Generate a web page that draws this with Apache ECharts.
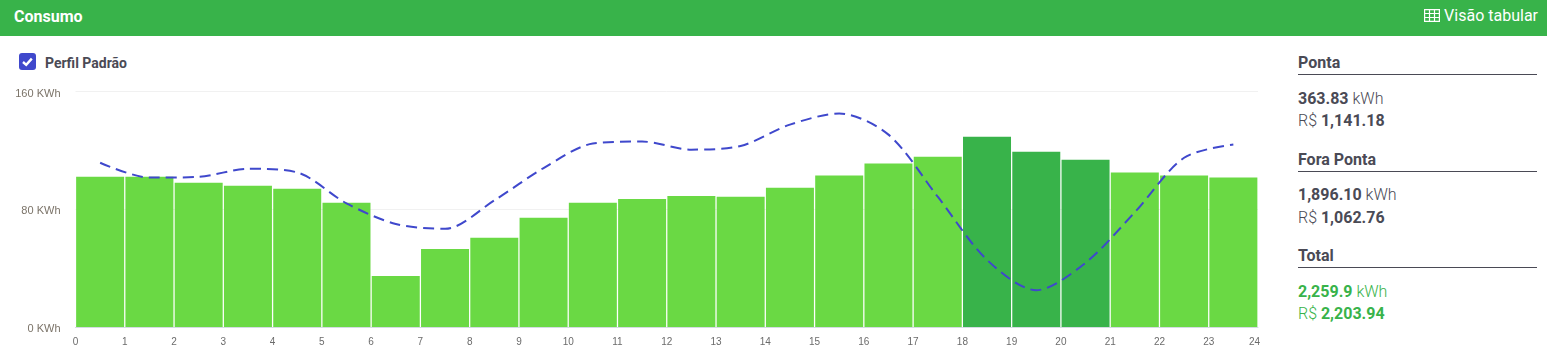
<!DOCTYPE html>
<html>
<head>
<meta charset="utf-8">
<title>Consumo</title>
<script src="https://cdn.jsdelivr.net/npm/echarts@6/dist/echarts.min.js"></script>
<style>
    html, body { margin: 0; padding: 0; background: #fff; }
    body { width: 1547px; height: 351px; position: relative; overflow: hidden; font-family: Roboto, sans-serif; color: #4a4a55; }
    .header { position: absolute; left: 0; top: 0; width: 1547px; height: 36px; background: #38b34a; color: #fff; }
    .header .title { position: absolute; left: 14px; top: 8px; font-size: 16px; font-weight: 700; line-height: 18px; }
    .header .link { position: absolute; right: 9px; top: 6px; font-size: 16px; line-height: 19px; }
    .header svg { vertical-align: -1px; margin-right: 4px; }
    .profile { position: absolute; left: 19px; top: 53px; height: 18px; font-size: 14px; font-weight: 700; line-height: 18px; }
    .profile .box { position: absolute; left: 0; top: 0; width: 17px; height: 17px; background: #3f48cc; border-radius: 3px; }
    .profile .label { position: absolute; left: 26px; top: 1px; white-space: nowrap; }
    #chart { position: absolute; left: 0; top: 80px; width: 1275px; height: 271px; }
    .side { position: absolute; left: 1298px; top: 0; width: 239px; }
    .side h4 { position: absolute; left: 0; width: 239px; margin: 0; font-size: 16px; font-weight: 700; line-height: 19px; height: 21px; border-bottom: 1px solid #4a4a55; }
    .side p { position: absolute; left: 0; margin: 0; font-size: 16px; line-height: 20px; font-weight: 300; white-space: nowrap; }
    .side b { font-weight: 700; }
    .side .green { color: #38b34a; }
</style>
</head>
<body>
<div class="header">
    <div class="title">Consumo</div>
    <div class="link"><svg width="16" height="13" viewBox="0 0 16 13"><path fill="none" stroke="#fff" stroke-width="1.2" d="M.6.6h14.8v11.8H.6zM.6 4.5h14.8M.6 8.5h14.8M5.5.6v11.8M10.5.6v11.8"/></svg>Visão tabular</div>
</div>
<div class="profile">
    <div class="box"><svg width="17" height="17" viewBox="0 0 17 17"><path fill="none" stroke="#fff" stroke-width="2.4" d="M4 9l3.2 2.8 5.6-6.2"/></svg></div>
    <div class="label">Perfil Padrão</div>
</div>
<div id="chart"></div>
<div class="side">
    <h4 style="top:53px">Ponta</h4>
    <p style="top:89px"><b>363.83</b> kWh</p>
    <p style="top:111px">R$ <b>1,141.18</b></p>
    <h4 style="top:150px">Fora Ponta</h4>
    <p style="top:185px"><b>1,896.10</b> kWh</p>
    <p style="top:208px">R$ <b>1,062.76</b></p>
    <h4 style="top:246px">Total</h4>
    <p class="green" style="top:282px"><b>2,259.9</b> kWh</p>
    <p class="green" style="top:304px">R$ <b>2,203.94</b></p>
</div>
<script>
const hours = ['0', '1', '2', '3', '4', '5', '6', '7', '8', '9', '10', '11', '12', '13', '14', '15', '16', '17', '18', '19', '20', '21', '22', '23'];
const consumo = [102, 102, 98, 96, 94, 84.4, 34.7, 53, 60.6, 74.2, 84.4, 87, 89, 88.5, 94.6, 103, 111, 115.7, 129.3, 119, 113.7, 105, 103, 101.5];
const perfilPadrao = [111.6, 101.5, 102, 107.5, 105, 84, 70, 66.7, 86, 108, 124.6, 126, 120.5, 123, 137.5, 145, 130.7, 88.5, 45.6, 25, 43.6, 78, 115, 124];
const horasPonta = [18, 19, 20];

const myChart = echarts.init(document.getElementById('chart'));
myChart.setOption({
    animation: false,
    grid: { left: 75.5, right: 17, top: 11.5, bottom: 24 },
    xAxis: [
        {
            // eixo das barras, sem rotulos
            type: 'category',
            data: hours,
            show: false
        },
        {
            // horas ficam nas divisas das barras
            type: 'value',
            min: 0,
            max: 24,
            interval: 1,
            position: 'bottom',
            splitLine: { show: false },
            axisTick: { show: false },
            axisLine: { show: true, lineStyle: { color: '#d4dbe3', width: 1 } },
            axisLabel: {
                color: '#6b6b6b',
                fontSize: 10,
                fontFamily: 'Liberation Sans',
                margin: 10,
                hideOverlap: false,
                formatter: (v) => (v === 24 ? '{last|24}' : String(v)),
                rich: { last: { color: '#6b6b6b', fontSize: 10, fontFamily: 'Liberation Sans', padding: [0, 7, 0, 0] } }
            }
        }
    ],
    yAxis: {
        type: 'value',
        min: 0,
        max: 160,
        interval: 80,
        axisLine: { show: false },
        axisTick: { show: false },
        splitLine: { lineStyle: { color: '#f1f1f1' } },
        axisLabel: {
            margin: 15,
            formatter: '{kwh|{value} KWh}',
            rich: { kwh: { color: '#7b7368', fontSize: 11, fontFamily: 'Liberation Sans', padding: [4, 0, 0, 0] } }
        }
    },
    series: [
        {
            name: 'Consumo',
            type: 'bar',
            xAxisIndex: 0,
            barWidth: 48,
            data: consumo.map((v, i) => ({
                value: v,
                itemStyle: { color: horasPonta.includes(i) ? '#38b34a' : '#6ad944' }
            }))
        },
        {
            name: 'Perfil Padrão',
            type: 'line',
            xAxisIndex: 0,
            smooth: 0.3,
            symbol: 'none',
            data: perfilPadrao,
            lineStyle: { color: '#3f48cc', width: 2, type: [11, 6] }
        }
    ]
});
</script>
</body>
</html>
